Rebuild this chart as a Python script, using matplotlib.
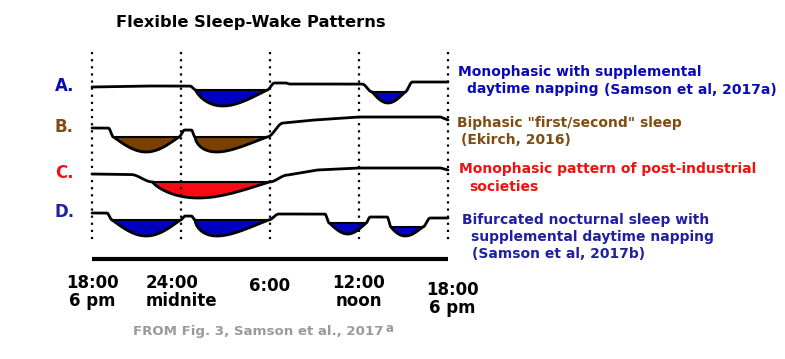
import numpy as np
import matplotlib.pyplot as plt

W, H = 785, 359

# time axis: hours after 18:00 (0 = 18:00, 24 = 18:00 next day)
tick_hours = [0, 6, 12, 18, 24]
tick_labels = ['18:00\n6 pm', '24:00\nmidnite', '6:00', '12:00\nnoon', '18:00\n6 pm']

row_names = ['A.', 'B.', 'C.', 'D.']

# wake line knots (hour, level) between sleep bouts; bigger level = lower on page
wake_A = [[(0, 0), (4, -1), (6.6, -1)],
          [(12.3, -4), (13.1, -4), (13.3, -3), (18.2, -3)],
          [(21.6, -5), (24, -5)]]
# sleep bouts: (start, end, fill level, depth, position of deepest point)
sleep_A = [(7.0, 11.8, 3, 16, 0.38), (18.9, 21.1, 5, 11, 0.48)]

wake_B = [[(0, 0), (1.1, 0)],
          [(6.25, 2), (6.7, 2)],
          [(12.9, -5), (15, -8), (18, -11), (23.5, -11), (24, -8)]]
sleep_B = [(1.45, 5.85, 9, 15, 0.5), (6.95, 11.8, 9, 15, 0.3)]

wake_C = [[(0, 0), (2.6, 0.5)],
          [(13.2, 1), (15.2, -4), (18, -6), (23.5, -6), (24, -4)]]
sleep_C = [(4.1, 11.95, 8, 16, 0.39)]

wake_D = [[(0, 0), (1.0, 0)],
          [(6.3, 3), (6.7, 3)],
          [(12.6, 1), (15.7, 1)],
          [(18.75, 4), (19.9, 4)],
          [(22.8, 5), (24, 5)]]
sleep_D = [(1.36, 5.95, 7, 16, 0.5), (6.95, 11.9, 7, 16, 0.3),
           (16.0, 18.47, 10, 11, 0.5), (20.16, 22.3, 14, 9, 0.45)]

fill_colors = ['#0000c0', '#7b3f00', '#f80a14', '#0000c0']
label_colors = ['#0a0ab8', '#7f4c14', '#f01010', '#2020a0']


def ease(x0, y0, x1, y1, n=30):
    u = np.linspace(0, 1, n)
    return x0 + (x1 - x0) * u, y0 + (y1 - y0) * (1 - np.cos(np.pi * u)) / 2


def bowl(s, e, top, depth, peak, n=160):
    t = np.linspace(0, 1, n)
    k = np.log(0.5) / np.log(peak)
    return s + (e - s) * t, top + depth * np.sin(np.pi * t ** k)


fig = plt.figure(figsize=(W / 100, H / 100), dpi=100)
ax = fig.add_axes([0, 0, 1, 1])
px_per_h = 356 / 24
ax.set_xlim(-92 / px_per_h, (W - 92) / px_per_h)
ax.set_ylim(H, 0)
ax.axis('off')


def fx(px):
    return px / W


def fy(py):
    return 1 - py / H


# dotted hour lines and the bottom bar
ax.vlines(tick_hours, 52, 244, colors='black', linestyles=(0, (1, 2.2)), lw=1.6)
ax.plot([tick_hours[0], tick_hours[-1]], [259, 259], color='black', lw=3,
        solid_capstyle='butt')

rows = [(wake_A, sleep_A, 87), (wake_B, sleep_B, 128),
        (wake_C, sleep_C, 174), (wake_D, sleep_D, 213)]

for i, (wake, sleep, base) in enumerate(rows):
    xs, ys = [], []
    for j, knots in enumerate(wake):
        kx, ky = zip(*knots)
        if j > 0:
            p = sleep[j - 1]
            ex, ey = ease(p[1], p[2], kx[0], ky[0])
            xs.append(ex)
            ys.append(ey)
        xs.append(np.array(kx, float))
        ys.append(np.array(ky, float))
        if j < len(sleep):
            s, e, top, depth, peak = sleep[j]
            ex, ey = ease(kx[-1], ky[-1], s, top)
            xs.append(ex)
            ys.append(ey)
            bx, by = bowl(s, e, top, depth, peak)
            xs.append(bx)
            ys.append(by)
            ax.fill_between(bx, base + top, base + by, color=fill_colors[i], lw=0)
            ax.plot([s, e], [base + top, base + top], color='black', lw=1.5)
    ax.plot(np.concatenate(xs), base + np.concatenate(ys), color='black', lw=2.0,
            solid_capstyle='round', solid_joinstyle='round')
    fig.text(fx(55), fy(base - 1), row_names[i], color=label_colors[i],
             fontsize=12, fontweight='bold', va='center', ha='left')

# time labels
for h, lab in zip(tick_hours, tick_labels):
    top = 281 if h == 24 else (277 if lab == '6:00' else 274)
    ax.text(h + (0.3 if h == 24 else 0), top, lab, ha='center', va='top',
            multialignment='left' if h == 6 else 'center',
            fontsize=12, fontweight='bold', linespacing=1.0)

fig.text(fx(251), fy(22), 'Flexible Sleep-Wake Patterns', ha='center', va='center',
         fontsize=11.7, fontweight='bold')

# descriptions
desc = dict(fontweight='bold', va='center', ha='left')
fig.text(fx(458), fy(72), 'Monophasic with supplemental', color=label_colors[0], fontsize=10, **desc)
fig.text(fx(467), fy(89), 'daytime napping', color=label_colors[0], fontsize=10, **desc)
fig.text(fx(604), fy(90), '(Samson et al, 2017a)', color=label_colors[0], fontsize=10, **desc)
fig.text(fx(457), fy(123), 'Biphasic "first/second" sleep', color=label_colors[1], fontsize=10, **desc)
fig.text(fx(461), fy(140), '(Ekirch, 2016)', color=label_colors[1], fontsize=10, **desc)
fig.text(fx(459), fy(169), 'Monophasic pattern of post-industrial', color=label_colors[2], fontsize=10, **desc)
fig.text(fx(469), fy(187), 'societies', color=label_colors[2], fontsize=10, **desc)
fig.text(fx(462), fy(220), 'Bifurcated nocturnal sleep with', color=label_colors[3], fontsize=10, **desc)
fig.text(fx(471), fy(237), 'supplemental daytime napping', color=label_colors[3], fontsize=10, **desc)
fig.text(fx(472), fy(254), '(Samson et al, 2017b)', color=label_colors[3], fontsize=10, **desc)

fig.text(fx(133), fy(331), 'FROM Fig. 3, Samson et al., 2017', color='#9a9a9a',
         fontsize=9.6, fontweight='bold', va='center', ha='left')
fig.text(fx(385), fy(329), 'a', color='#9a9a9a', fontsize=8.5, fontweight='bold',
         va='center', ha='left')

fig.savefig('out.png', dpi=100)
